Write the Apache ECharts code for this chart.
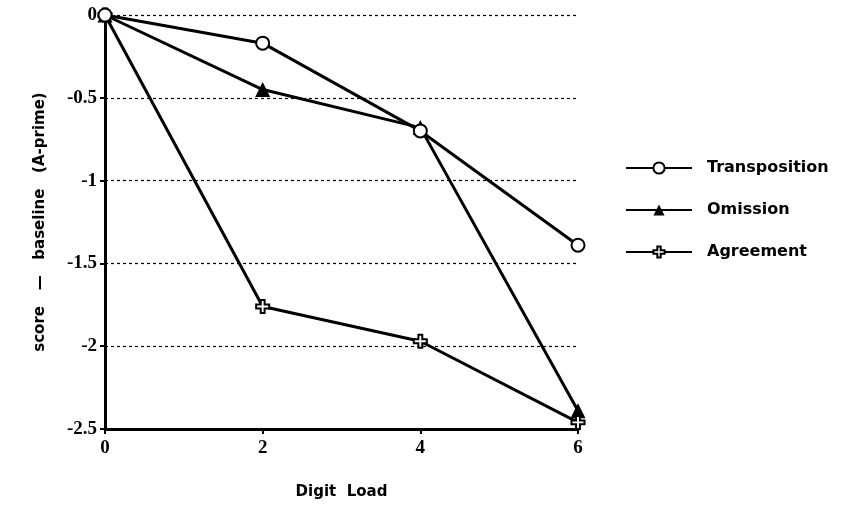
<!DOCTYPE html>
<html><head><meta charset="utf-8">
<script src="https://cdn.jsdelivr.net/npm/echarts@6/dist/echarts.min.js"></script>
<style>html,body{margin:0;padding:0;background:#fff}#c{width:845px;height:526px}</style>
</head><body><div id="c"></div>
<script>
const digitLoad = [0, 2, 4, 6];
const transposition = [0, -0.17, -0.70, -1.39];
const omission = [0, -0.45, -0.68, -2.39];
const agreement = [0, -1.76, -1.97, -2.46];
const seriesNames = ['Transposition', 'Omission', 'Agreement'];

const plusPath = 'path://M3.5,0 H6.5 V3.5 H10 V6.5 H6.5 V10 H3.5 V6.5 H0 V3.5 H3.5 Z';
function pts(ys){ return digitLoad.map((x,i)=>[x, ys[i]]); }

const chart = echarts.init(document.getElementById('c'), null, {renderer:'canvas'});
const lineStyle = {color:'#000', width:3};
const tickFont = {fontFamily:'"Liberation Serif", serif', fontWeight:'bold', fontSize:19, color:'#000'};
chart.setOption({
  animation:false,
  backgroundColor:'#fff',
  grid:{left:105, right:267, top:15, bottom:97},
  legend:{
    orient:'vertical', left:620, top:155, itemGap:26, itemWidth:66, itemHeight:14,
    textStyle:{fontFamily:'DejaVu Sans', fontWeight:'bold', fontSize:16, color:'#000', padding:[0,0,0,10]},
    data:seriesNames
  },
  xAxis:{
    type:'value', min:0, max:6, interval:2,
    name:'Digit  Load', nameLocation:'middle', nameGap:56,
    nameTextStyle:{fontFamily:'DejaVu Sans', fontWeight:'bold', fontSize:15, color:'#000'},
    axisLine:{onZero:false, lineStyle:{color:'#000', width:3}},
    axisTick:{inside:false, length:5, lineStyle:{color:'#000', width:2}},
    axisLabel:Object.assign({margin:10}, tickFont),
    splitLine:{show:false}
  },
  yAxis:{
    type:'value', min:-2.5, max:0, interval:0.5,
    name:'score   —   baseline   (A-prime)', nameLocation:'middle', nameGap:57, nameRotate:90,
    nameTextStyle:{fontFamily:'DejaVu Sans', fontWeight:'bold', fontSize:15, color:'#000'},
    axisLine:{onZero:false, lineStyle:{color:'#000', width:3}},
    axisTick:{length:5, lineStyle:{color:'#000', width:2}},
    axisLabel:Object.assign({margin:8}, tickFont),
    splitLine:{show:true, lineStyle:{color:'#000', width:1.2, type:[3,3]}}
  },
  series:[
    {name:seriesNames[0], type:'line', data:pts(transposition), symbol:'circle', symbolSize:13,
     lineStyle:lineStyle, itemStyle:{color:'#fff', borderColor:'#000', borderWidth:2}, z:4},
    {name:seriesNames[1], type:'line', data:pts(omission), symbol:'triangle', symbolSize:15,
     lineStyle:lineStyle, itemStyle:{color:'#000', borderColor:'#000', borderWidth:0}, z:2},
    {name:seriesNames[2], type:'line', data:pts(agreement), symbol:plusPath, symbolSize:13,
     lineStyle:lineStyle, itemStyle:{color:'#fff', borderColor:'#000', borderWidth:2}, z:3}
  ]
});
</script></body></html>
